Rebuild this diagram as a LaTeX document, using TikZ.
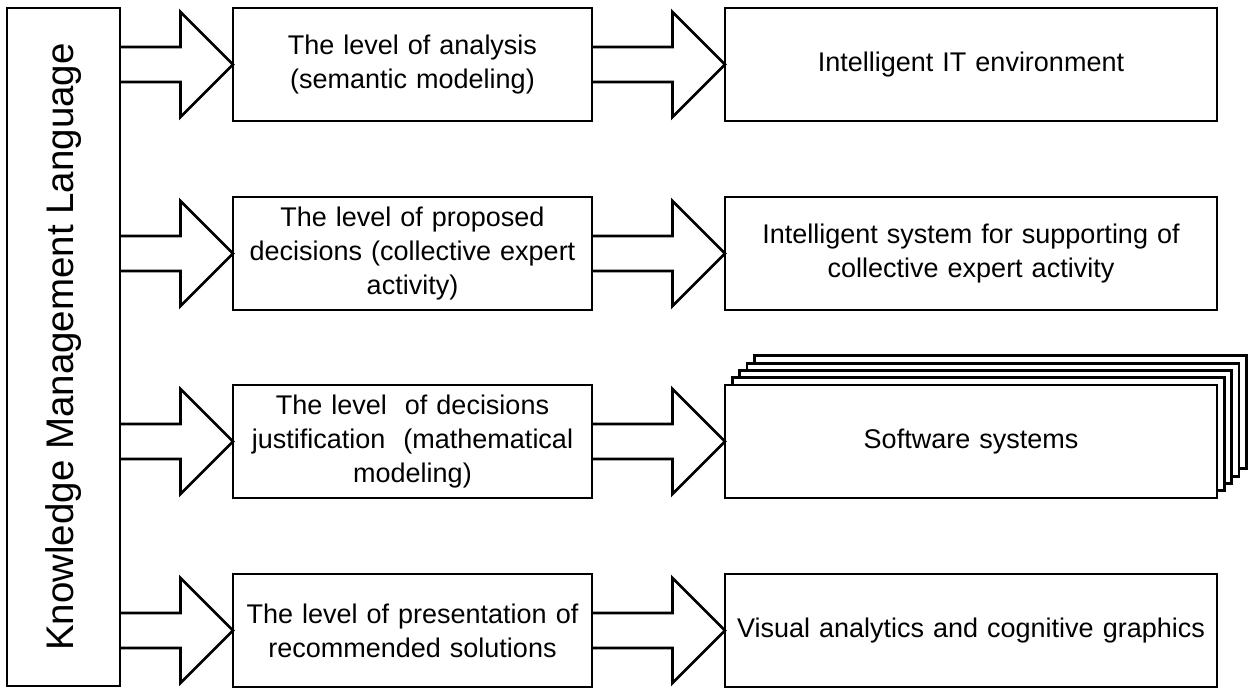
\documentclass[tikz,border=0pt]{standalone}
\usepackage{fontspec}
\setmainfont{Liberation Sans}
\usetikzlibrary{calc}

\tikzset{
  boxline/.style={draw=black, line width=2.8pt},
  box/.style={boxline, rectangle, outer sep=0pt, inner sep=4pt, align=center,
    minimum height=113pt, font=\fontsize{27}{34}\selectfont},
  midbox/.style={box, minimum width=359pt, text width=340pt},
  rightbox/.style={box, minimum width=492pt, text width=470pt},
  fatarrow/.style={boxline, line join=miter},
}

% hollow block arrow from the right side of #1 to the left side of #2
\newcommand{\fatarrow}[2]{%
  \draw[fatarrow] ($(#1.east |- #2.west)+(0,-17.5)$)
    -- ($(#2.west)+(-52.5,-17.5)$) -- ++(0,-35) -- (#2.west)
    -- ++(-52.5,52.5) -- ++(0,-35)
    -- ($(#1.east |- #2.west)+(0,17.5)$);}

\begin{document}
\begin{tikzpicture}[x=1pt, y=-1pt]
\useasboundingbox (0,0) rectangle (1248,688);

% left column
\node[boxline, rectangle, outer sep=0pt, minimum width=113pt, minimum height=678pt]
  (kml) at (63.5,347) {};
\node[rotate=90, font=\fontsize{38.5}{44}\selectfont] (kmltext) at (kml.center)
  {Knowledge Management Language};

% levels
\node[midbox] (l1) at (412.5,64.5) {The level of analysis\\(semantic modeling)};
\node[midbox] (l2) at (412.5,253.5) {The level of proposed\\decisions (collective expert\\activity)};
\node[midbox] (l3) at (412.5,441.5) {The level\ \ of decisions\\justification\ \ (mathematical\\modeling)};
\node[midbox] (l4) at (412.5,630.5) {The level of presentation of\\recommended solutions};

% tools
\node[rightbox] (t1) at (971,64.5) {Intelligent IT environment};
\node[rightbox] (t2) at (971,253.5) {Intelligent system for supporting of\\collective expert activity};

% stacked sheets behind the software systems box
\coordinate (swc) at (971,441.5);
\foreach \k in {4,3,2,1}
  \draw[boxline, fill=white] ($(swc)+(-246+7.3*\k,-56.5-7.3*\k)$)
    rectangle ($(swc)+(246+7.3*\k,56.5-7.3*\k)$);
\node[rightbox, fill=white] (t3) at (swc) {Software systems};

\node[rightbox] (t4) at (971,630.5) {Visual analytics and cognitive graphics};

% block arrows
\fatarrow{kml}{l1}
\fatarrow{kml}{l2}
\fatarrow{kml}{l3}
\fatarrow{kml}{l4}
\fatarrow{l1}{t1}
\fatarrow{l2}{t2}
\fatarrow{l3}{t3}
\fatarrow{l4}{t4}
\end{tikzpicture}
\end{document}
